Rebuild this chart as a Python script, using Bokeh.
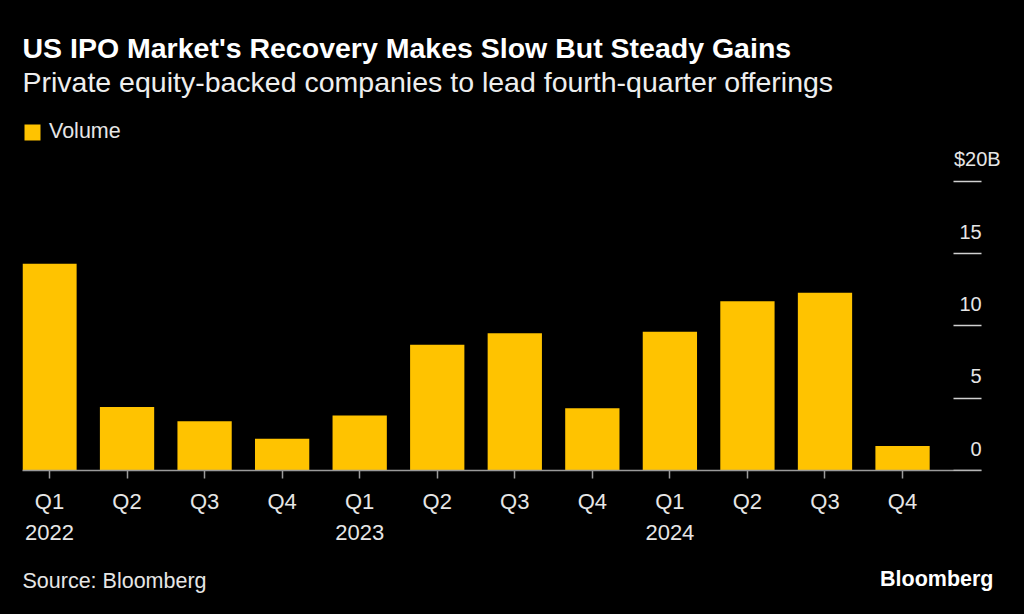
from bokeh.plotting import figure
from bokeh.layouts import column
from bokeh.models import (Range1d, LinearAxis, FixedTicker, Label, Legend, LegendItem,
                          ColumnDataSource)
from bokeh.embed import file_html
from bokeh.resources import INLINE

# ---- data ----
quarters = ["Q1", "Q2", "Q3", "Q4", "Q1", "Q2", "Q3", "Q4", "Q1", "Q2", "Q3", "Q4"]
years = ["2022", "", "", "", "2023", "", "", "", "2024", "", "", ""]
volume = [14.3, 4.4, 3.4, 2.2, 3.8, 8.7, 9.5, 4.3, 9.6, 11.7, 12.3, 1.7]
y_ticks = [0, 5, 10, 15, 20]
y_tick_labels = ["0", "5", "10", "15", "$20B"]

title_text = "US IPO Market's Recovery Makes Slow But Steady Gains"
subtitle_text = "Private equity-backed companies to lead fourth-quarter offerings"
source_text = "Source: Bloomberg"
logo_text = "Bloomberg"

FONT = "Liberation Sans"
BAR = "#FFC300"
TXT = "#e6e6e6"
BG = "#000000"
W = 1024
FL, FR = 22, 1006  # frame left/right in page px (shared by all stacked figures)


def blank_fig(h, y0):
    f = figure(width=W, height=h, output_backend="svg", toolbar_location=None,
               x_range=Range1d(FL, FR), y_range=Range1d(y0 + h, y0),
               min_border_left=FL, min_border_right=W - FR,
               min_border_top=0, min_border_bottom=0,
               background_fill_color=BG, border_fill_color=BG)
    f.outline_line_color = None
    f.axis.visible = False
    f.grid.visible = False
    return f


def lab(f, text, x, y, size, bold=False, color=TXT, align="left"):
    f.add_layout(Label(text=text, x=x, y=y, text_font=FONT, text_font_size=size,
                       text_font_style="bold" if bold else "normal",
                       text_color=color, text_align=align,
                       text_baseline="alphabetic"))


# ---- header ----
HH = 112
header = blank_fig(HH, 0)
lab(header, title_text, 22, 47, "28.5px", bold=True, color="#ffffff")
lab(header, subtitle_text, 22, 81, "28.5px", color="#eeeeee")

# ---- main chart ----
MH = 448
FT, FB = 119, 470
px_per_cat = 77.55
px_per_unit = 14.46
y_end = (FB - FT) / px_per_unit
x_start = -0.348
x_end = x_start + (FR - FL) / px_per_cat
axis_end = 12.02  # where the value axis sits (right end of the category axis)
idx = list(range(len(volume)))
labels = {i: (q + ("\n" + y if y else "")) for i, (q, y) in enumerate(zip(quarters, years))}

p = figure(width=W, height=MH, output_backend="svg", toolbar_location=None,
           x_range=Range1d(x_start, x_end), y_range=Range1d(0, y_end),
           min_border_left=FL, min_border_right=W - FR,
           min_border_top=FT - HH, min_border_bottom=HH + MH - FB,
           background_fill_color=BG, border_fill_color=BG)
p.outline_line_color = None
p.xgrid.visible = False
p.ygrid.visible = False
p.xaxis.visible = False
p.yaxis.visible = False

src = ColumnDataSource(dict(x=idx, top=volume))
bars = p.vbar(x="x", top="top", bottom=0, width=0.7, source=src,
              fill_color=BAR, line_color=None)

xa = LinearAxis(ticker=FixedTicker(ticks=idx), major_label_overrides=labels,
                bounds=(x_start, axis_end))
xa.axis_line_color = "#9a9a9a"
xa.axis_line_width = 1.5
xa.major_tick_line_color = "#9a9a9a"
xa.major_tick_line_width = 1.5
xa.major_tick_in = 0
xa.major_tick_out = 8
xa.minor_tick_line_color = None
xa.major_label_standoff = 10
xa.major_label_text_font = FONT
xa.major_label_text_font_size = "22px"
xa.major_label_text_color = TXT
xa.major_label_text_line_height = 1.25
p.add_layout(xa, "below")

ya = LinearAxis(ticker=FixedTicker(ticks=y_ticks), fixed_location=axis_end)
ya.axis_line_color = None
ya.major_tick_line_color = "#d0d0d0"
ya.major_tick_line_width = 1.5
ya.major_tick_in = 28
ya.major_tick_out = 0
ya.minor_tick_line_color = None
ya.major_label_text_color = None
ya.major_label_text_font_size = "1px"
ya.major_label_standoff = 0
p.add_layout(ya, "right")

# y tick labels sit above their tick marks; the unit suffix hangs past the number
for t, s in zip(y_ticks, y_tick_labels):
    hang = 19 if s.endswith("B") else 0
    p.add_layout(Label(x=axis_end, y=t, text=s, x_offset=hang, y_offset=22,
                       text_align="right", text_baseline="alphabetic",
                       text_font=FONT, text_font_size="20px", text_color=TXT))

legend = Legend(items=[LegendItem(label="Volume", renderers=[bars])],
                location="top_left", margin=0, padding=1,
                glyph_width=20, glyph_height=20, label_standoff=7,
                label_text_font=FONT, label_text_font_size="21.5px",
                label_text_color=TXT, background_fill_alpha=0,
                border_line_color=None)
p.add_layout(legend, "center")

# ---- footer ----
FH = 614 - HH - MH
footer = blank_fig(FH, HH + MH)
lab(footer, source_text, 22, 580, "21.5px")
lab(footer, logo_text, 993, 578, "21.5px", bold=True, color="#ffffff", align="right")

layout = column(header, p, footer, spacing=0)

html = file_html(layout, INLINE)
html = html.replace("<head>", "<head><style>body{background:#000000;}</style>", 1)
open("out.html", "w").write(html)
